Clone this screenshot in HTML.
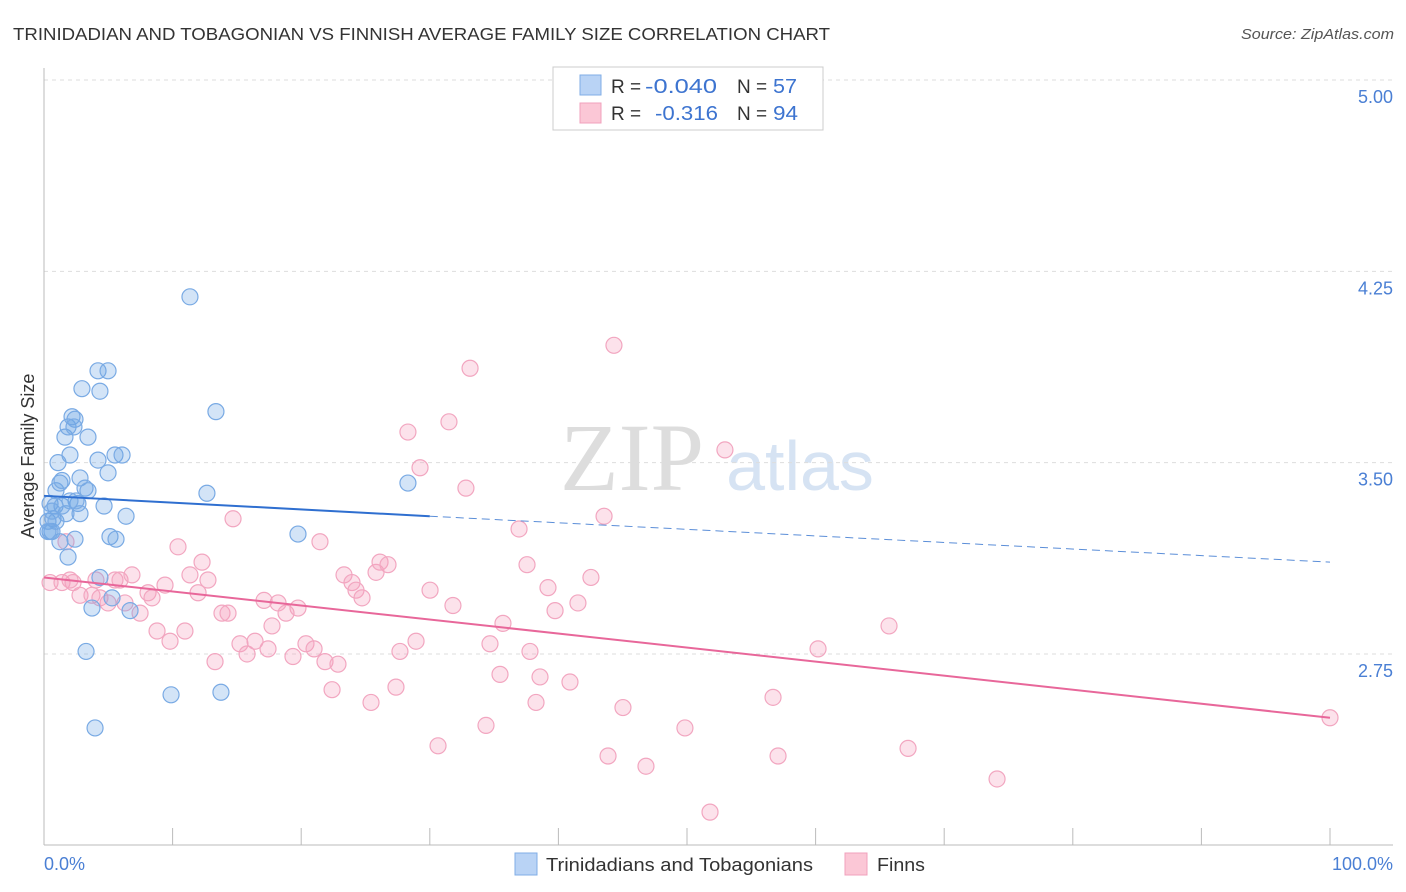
<!DOCTYPE html>
<html><head><meta charset="utf-8"><style>
body{margin:0;background:#fff;font-family:"Liberation Sans",sans-serif}
svg{display:block}
</style></head><body>
<svg id="chart" width="1406" height="892">
<text x="13" y="40" font-size="17.5" fill="#333" textLength="817" lengthAdjust="spacingAndGlyphs">TRINIDADIAN AND TOBAGONIAN VS FINNISH AVERAGE FAMILY SIZE CORRELATION CHART</text>
<text x="1394" y="39" font-size="15" fill="#555" font-style="italic" text-anchor="end" textLength="153" lengthAdjust="spacingAndGlyphs">Source: ZipAtlas.com</text>
<text x="632" y="490" font-size="96" fill="#ddd" font-family="Liberation Serif,serif" text-anchor="middle">ZIP</text>
<text x="800" y="490" font-size="70" fill="#d6e3f3" text-anchor="middle">atlas</text>
<g id="grid"></g>
<g id="axes"></g>
<g id="pts"></g>
<g id="trends"></g>
<text transform="translate(34,456) rotate(-90)" font-size="18" fill="#333" text-anchor="middle">Average Family Size</text>
<text x="44" y="870" font-size="18" fill="#4a7fd4">0.0%</text>
<text x="1393" y="870" font-size="18" fill="#4a7fd4" text-anchor="end">100.0%</text>
<g>
<rect x="553" y="67" width="270" height="63" fill="#fff" stroke="#ccc"/>
<rect x="580" y="75" width="21" height="20" fill="#b9d3f5" stroke="#80aee6"/>
<rect x="580" y="103" width="21" height="20" fill="#fbc7d6" stroke="#f0a0bc"/>
<text x="611" y="93" font-size="19" fill="#333">R =</text>
<text x="645" y="93" font-size="20" fill="#3d74d0" textLength="72" lengthAdjust="spacingAndGlyphs">-0.040</text>
<text x="737" y="93" font-size="19" fill="#333">N =</text>
<text x="773" y="93" font-size="20" fill="#3d74d0" textLength="24" lengthAdjust="spacingAndGlyphs">57</text>
<text x="611" y="120" font-size="19" fill="#333">R =</text>
<text x="655" y="120" font-size="20" fill="#3d74d0" textLength="63" lengthAdjust="spacingAndGlyphs">-0.316</text>
<text x="737" y="120" font-size="19" fill="#333">N =</text>
<text x="773" y="120" font-size="20" fill="#3d74d0" textLength="25" lengthAdjust="spacingAndGlyphs">94</text>
</g>
<g>
<rect x="515" y="853" width="22" height="22" fill="#b9d3f5" stroke="#80aee6"/>
<text x="546" y="871" font-size="18.5" fill="#333" textLength="267" lengthAdjust="spacingAndGlyphs">Trinidadians and Tobagonians</text>
<rect x="845" y="853" width="22" height="22" fill="#fbc7d6" stroke="#f0a0bc"/>
<text x="877" y="871" font-size="18.5" fill="#333" textLength="48" lengthAdjust="spacingAndGlyphs">Finns</text>
</g>
</svg>
<script>
const yTicks=[5.00,4.25,3.50,2.75];
const yTickLabels=["5.00","4.25","3.50","2.75"];
const xTicks=[0,10,20,30,40,50,60,70,80,90,100];
const blueX=[0.47,0.62,0.31,0.86,0.70,0.93,1.24,1.40,1.09,1.63,1.87,2.18,2.41,2.02,2.33,2.95,3.42,2.80,3.19,2.64,2.80,2.49,3.42,4.20,4.98,4.35,4.20,4.98,5.52,6.07,4.67,6.38,5.13,5.60,1.87,2.41,1.24,4.35,5.29,3.73,6.69,3.27,3.97,9.88,11.35,13.37,12.67,13.76,19.75,28.30,0.47,0.93,0.31,1.71,1.40,2.02,0.62];
const blueY=[3.34,3.23,3.27,3.33,3.28,3.39,3.42,3.43,3.50,3.60,3.64,3.68,3.67,3.53,3.64,3.79,3.60,3.44,3.40,3.34,3.30,3.35,3.39,3.86,3.86,3.78,3.51,3.46,3.53,3.53,3.33,3.29,3.21,3.20,3.13,3.20,3.19,3.05,2.97,2.93,2.92,2.76,2.46,2.59,4.15,3.70,3.38,2.60,3.22,3.42,3.23,3.27,3.23,3.30,3.33,3.35,3.31];
const pinkX=[0.47,1.40,2.26,2.02,1.71,2.80,3.73,4.04,4.35,4.98,5.52,5.91,6.30,6.84,7.47,8.09,8.40,8.79,9.41,9.80,10.42,10.96,11.35,11.98,12.29,12.75,13.84,14.31,13.30,14.70,15.24,15.79,16.41,17.11,17.42,17.73,18.20,18.82,19.36,19.75,20.37,21.00,21.46,21.85,22.40,22.86,23.33,23.95,24.26,24.73,25.43,25.82,26.13,26.75,27.37,27.68,28.30,28.93,29.24,30.02,30.64,31.49,31.80,32.81,33.13,34.37,34.68,35.46,35.69,36.94,37.56,37.79,38.26,38.57,39.19,39.74,40.90,41.52,42.53,43.55,43.86,44.32,45.02,46.81,49.84,51.79,52.95,56.69,57.08,60.19,65.71,67.19,74.11,100];
const pinkY=[3.03,3.03,3.03,3.04,3.19,2.98,2.98,3.04,2.97,2.95,3.04,3.04,2.95,3.06,2.91,2.99,2.97,2.84,3.02,2.80,3.17,2.84,3.06,2.99,3.11,3.04,2.91,2.91,2.72,3.28,2.79,2.75,2.80,2.96,2.77,2.86,2.95,2.91,2.74,2.93,2.79,2.77,3.19,2.72,2.61,2.71,3.06,3.03,3.00,2.97,2.56,3.07,3.11,3.10,2.62,2.76,3.62,2.80,3.48,3.00,2.39,3.66,2.94,3.40,3.87,2.47,2.79,2.67,2.87,3.24,3.10,2.76,2.56,2.66,3.01,2.92,2.64,2.95,3.05,3.29,2.35,3.96,2.54,2.31,2.46,2.13,3.55,2.58,2.35,2.77,2.86,2.38,2.26,2.50];
const blueTrendX=[0,30,100];
const blueTrendY=[3.37,3.29,3.11];
const pinkTrendX=[0,100];
const pinkTrendY=[3.05,2.50];

const NS="http://www.w3.org/2000/svg";
const xs=v=>44+v*12.86;
const ys=v=>80+(5-v)*255.1;
function mk(tag,attrs,parent){const e=document.createElementNS(NS,tag);for(const k in attrs)e.setAttribute(k,attrs[k]);parent.appendChild(e);return e;}
const grid=document.getElementById('grid'),axes=document.getElementById('axes'),pts=document.getElementById('pts'),tr=document.getElementById('trends');
yTicks.forEach((t,i)=>{
 const l=mk('line',{x1:44,x2:1393,y1:ys(t),y2:ys(t),stroke:'#ddd','stroke-dasharray':'4,4'},grid);
 
 
 const tx=mk('text',{x:1393,y:ys(t)+23,'font-size':18,fill:'#4a7fd4','text-anchor':'end'},grid);
 tx.textContent=yTickLabels[i];
 
 
});
let a=mk('line',{x1:44,x2:44,y1:68,y2:845,stroke:'#bbb'},axes);


a=mk('line',{x1:44,x2:1393,y1:845,y2:845,stroke:'#bbb'},axes);


xTicks.forEach(t=>{
 const l=mk('line',{x1:xs(t),x2:xs(t),y1:828,y2:845,stroke:'#bbb'},axes);
 
 
});
pinkX.forEach((x,i)=>{
 const c=mk('circle',{cx:xs(x),cy:ys(pinkY[i]),r:8,fill:'rgba(244,160,190,0.3)',stroke:'#f2a6c0','stroke-width':1.2},pts);
 
 
});
blueX.forEach((x,i)=>{
 const c=mk('circle',{cx:xs(x),cy:ys(blueY[i]),r:8,fill:'rgba(110,165,230,0.3)',stroke:'#79aae4','stroke-width':1.2},pts);
 
 
});
let l=mk('line',{x1:xs(blueTrendX[0]),y1:ys(blueTrendY[0]),x2:xs(blueTrendX[1]),y2:ys(blueTrendY[1]),stroke:'#2f6fd0','stroke-width':2},tr);


l=mk('line',{x1:xs(blueTrendX[1]),y1:ys(blueTrendY[1]),x2:xs(blueTrendX[2]),y2:ys(blueTrendY[2]),stroke:'#5b8ed8','stroke-width':1,'stroke-dasharray':'8,5'},tr);


l=mk('line',{x1:xs(pinkTrendX[0]),y1:ys(pinkTrendY[0]),x2:xs(pinkTrendX[1]),y2:ys(pinkTrendY[1]),stroke:'#e8679a','stroke-width':2},tr);


</script>
</body></html>
